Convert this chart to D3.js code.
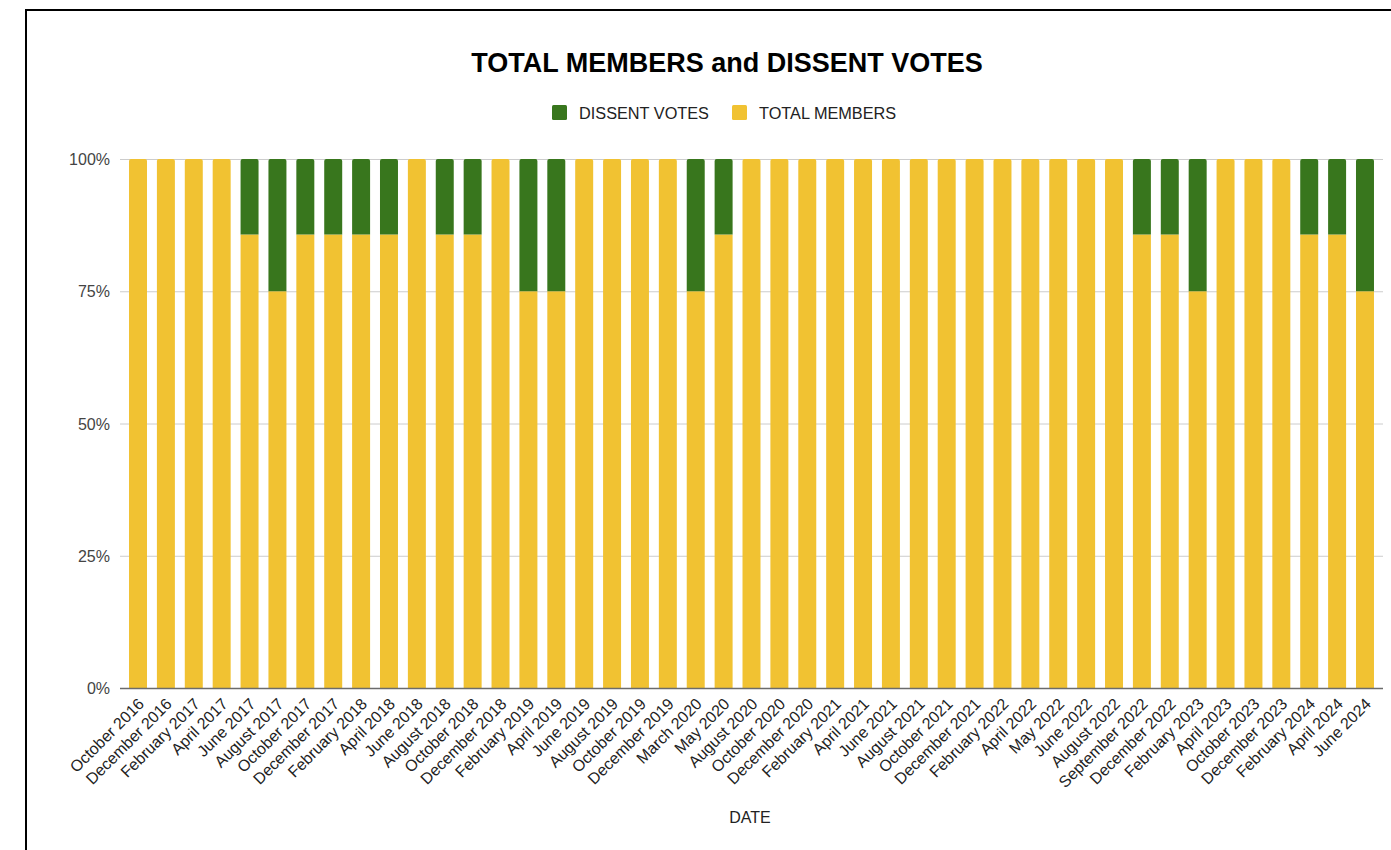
<!DOCTYPE html>
<html>
<head>
<meta charset="utf-8">
<script src="https://cdn.jsdelivr.net/npm/d3@7"></script>
<style>
  html, body { margin: 0; padding: 0; background: #fff; }
  svg { display: block; font-family: Arial, "Liberation Sans", sans-serif; }
</style>
</head>
<body>
<svg id="chart" width="1391" height="850"></svg>
<script>
const categories = ["October 2016","December 2016","February 2017","April 2017","June 2017","August 2017","October 2017","December 2017","February 2018","April 2018","June 2018","August 2018","October 2018","December 2018","February 2019","April 2019","June 2019","August 2019","October 2019","December 2019","March 2020","May 2020","August 2020","October 2020","December 2020","February 2021","April 2021","June 2021","August 2021","October 2021","December 2021","February 2022","April 2022","May 2022","June 2022","August 2022","September 2022","December 2022","February 2023","April 2023","October 2023","December 2023","February 2024","April 2024","June 2024"];
const totalMembers = [6,6,6,6,6,6,6,6,6,6,6,6,6,6,6,6,6,6,6,6,6,6,6,6,6,6,6,6,6,6,6,6,6,6,6,6,6,6,6,6,6,6,6,6,6];
const dissentVotes = [0,0,0,0,1,2,1,1,1,1,0,1,1,0,2,2,0,0,0,0,2,1,0,0,0,0,0,0,0,0,0,0,0,0,0,0,1,1,2,0,0,0,1,1,2];
const yTicks = [0, 0.25, 0.5, 0.75, 1];
const seriesNames = ["TOTAL MEMBERS", "DISSENT VOTES"];
const legendOrder = ["DISSENT VOTES", "TOTAL MEMBERS"];
const colors = {"TOTAL MEMBERS": "#f1c232", "DISSENT VOTES": "#38761d"};

const svg = d3.select("#chart");
const W = 1391, H = 850;

// frame (top + left lines)
svg.append("line").attr("x1", 26).attr("x2", W).attr("y1", 10).attr("y2", 10).attr("stroke", "#000").attr("stroke-width", 2);
svg.append("line").attr("x1", 26).attr("x2", 26).attr("y1", 9).attr("y2", H).attr("stroke", "#000").attr("stroke-width", 2);

const margin = {left: 124, right: 1379, top: 159, bottom: 688};

const rows = categories.map((c, i) => ({cat: c, "TOTAL MEMBERS": totalMembers[i], "DISSENT VOTES": dissentVotes[i]}));
const stacked = d3.stack().keys(seriesNames).offset(d3.stackOffsetExpand)(rows);

const x = d3.scaleBand().domain(categories).range([margin.left, margin.right]).paddingInner(0.355).paddingOuter(0.18);
const y = d3.scaleLinear().domain([0, 1]).range([margin.bottom, margin.top]);

// gridlines
svg.append("g").selectAll("line").data(yTicks.filter(t => t > 0)).join("line")
  .attr("x1", 120).attr("x2", 1383)
  .attr("y1", d => y(d) + 0.5).attr("y2", d => y(d) + 0.5)
  .attr("stroke", "#cccccc").attr("stroke-width", 1);

// y labels
svg.append("g").selectAll("text").data(yTicks).join("text")
  .attr("x", 110).attr("y", d => y(d) + 6)
  .attr("text-anchor", "end").attr("font-size", 16).attr("fill", "#444")
  .text(d3.format(".0%"));

// bars
function barPath(x0, y0, w, h, r) {
  r = Math.min(r, h / 2, w / 2);
  if (h <= 0) return "";
  return `M${x0},${y0 + h}V${y0 + r}Q${x0},${y0} ${x0 + r},${y0}H${x0 + w - r}Q${x0 + w},${y0} ${x0 + w},${y0 + r}V${y0 + h}Z`;
}
stacked.forEach((s, si) => {
  svg.append("g").attr("fill", colors[s.key]).selectAll("path").data(s).join("path")
    .attr("d", d => {
      const top = y(d[1]), bot = y(d[0]);
      const isTop = si === stacked.length - 1 || d[1] >= 1 - 1e-9;
      return barPath(x(d.data.cat), top, x.bandwidth(), bot - top, isTop ? 2 : 0);
    });
});

// baseline
svg.append("line").attr("x1", 120).attr("x2", 1383).attr("y1", y(0) + 0.5).attr("y2", y(0) + 0.5)
  .attr("stroke", "#6b6b6b").attr("stroke-width", 1.5);

// x labels
svg.append("g").selectAll("text").data(categories).join("text")
  .attr("transform", d => `translate(${x(d) + x.bandwidth() / 2 + 7},${705}) rotate(-45)`)
  .attr("text-anchor", "end").attr("font-size", 16).attr("fill", "#222")
  .text(d => d);

// axis title
svg.append("text").attr("x", 750).attr("y", 823).attr("text-anchor", "middle")
  .attr("font-size", 16).attr("fill", "#222").text("DATE");

// title
svg.append("text").attr("x", 727).attr("y", 72).attr("text-anchor", "middle")
  .attr("font-size", 27).attr("font-weight", "bold").attr("fill", "#000")
  .text("TOTAL MEMBERS and DISSENT VOTES");

// legend
const legend = svg.append("g");
const legendX = [552, 732];
legendOrder.forEach((k, i) => {
  legend.append("rect").attr("x", legendX[i]).attr("y", 105).attr("width", 15).attr("height", 15).attr("rx", 1.5)
    .attr("fill", colors[k]);
  legend.append("text").attr("x", legendX[i] + 27).attr("y", 118.5).attr("font-size", 16.3).attr("fill", "#222").text(k);
});
</script>
</body>
</html>
